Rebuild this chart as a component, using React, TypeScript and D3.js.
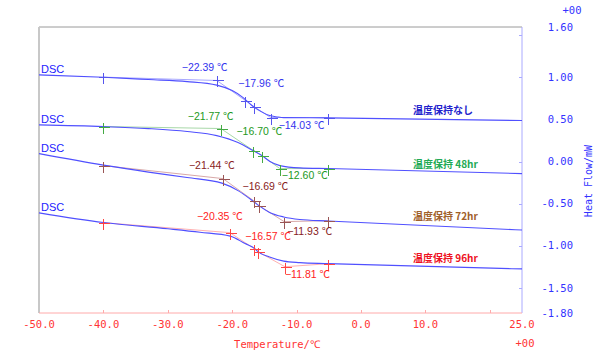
import React from "react";
import * as d3 from "d3";

// ---------- data ----------
const seriesNames = ["温度保持なし", "温度保持 48hr", "温度保持 72hr", "温度保持 96hr"];

// DSC curves: [temperature °C, heat flow mW]
const curveNone: [number, number][] = [
  [-50, 1.031], [-40, 1.002], [-33, 0.975], [-27, 0.951], [-22.4, 0.909], [-20, 0.844],
  [-18.3, 0.761], [-16.8, 0.658], [-15.5, 0.594], [-14.2, 0.547], [-13, 0.531], [-12, 0.523],
  [-5.1, 0.52], [25, 0.488],
];
const curve48: [number, number][] = [
  [-50, 0.436], [-40, 0.416], [-33, 0.392], [-27, 0.357], [-22.4, 0.309], [-19.1, 0.226],
  [-16.77, 0.131], [-15.37, 0.071], [-14.2, 0.004], [-12.6, -0.048], [-9.5, -0.075],
  [-5.1, -0.083], [25, -0.143],
];
const curve72: [number, number][] = [
  [-50, 0.095], [-40, -0.042], [-33, -0.125], [-27, -0.19], [-21.6, -0.256], [-19.1, -0.345],
  [-16.8, -0.468], [-15.8, -0.527], [-14.2, -0.604], [-12, -0.658], [-9.5, -0.688],
  [-5.1, -0.706], [25, -0.813],
];
const curve96: [number, number][] = [
  [-50, -0.61], [-40, -0.725], [-30, -0.799], [-25, -0.84], [-20.3, -0.886], [-18, -0.975],
  [-16.5, -1.034], [-16, -1.07], [-14.2, -1.135], [-12, -1.183], [-9.5, -1.201],
  [-5.1, -1.213], [25, -1.276],
];

// Tg analysis construction points: baseline, onset, midpoint, inflection, end, baseline
const crossNone: [number, number][] = [
  [-40, 1.004], [-22.39, 0.964], [-17.96, 0.726], [-16.57, 0.651], [-14.03, 0.524], [-5.1, 0.524],
];
const cross48: [number, number][] = [
  [-40, 0.417], [-21.77, 0.393], [-16.70, 0.131], [-15.37, 0.071], [-12.60, -0.083], [-5.1, -0.083],
];
const cross72: [number, number][] = [
  [-40, -0.048], [-21.44, -0.202], [-16.69, -0.464], [-15.84, -0.524], [-11.93, -0.714], [-5.1, -0.702],
];
const cross96: [number, number][] = [
  [-40, -0.726], [-20.35, -0.845], [-16.57, -1.036], [-16.0, -1.071], [-11.81, -1.25], [-5.1, -1.214],
];

const xTickLabels = [-50, -40, -30, -20, -10, 0, 10, 25];
const xTickMarks = [-40, -30, -20, -10, 0, 10, 20];
const yTickLabels = [1.6, 1.0, 0.5, 0, -0.5, -1.0, -1.5, -1.8];
const yTickMarks = [1.5, 1.0, 0.5, 0, -0.5, -1.0, -1.5];

// ---------- layout / style ----------
const W = 600;
const H = 359;
const left = 39;
const right = 522;
const top = 27;
const bottom = 313;

const curves = [curveNone, curve48, curve72, curve96];
const crosses = [crossNone, cross48, cross72, cross96];
const labelColors = ["#3333ee", "#229922", "#882222", "#ff2222"];
const crossColors = ["#5555ee", "#44aa44", "#995555", "#ff4444"];
const guideColors = ["#a8a8ff", "#a8d8a8", "#d8a8a8", "#ffb0b0"];
const legendColors = ["#2222cc", "#22aa55", "#a0602a", "#ee1122"];
// label offsets (px) for onset / midpoint / end crosses
const labelIdx = [1, 2, 4];
const labelOffsets: [number, number][][] = [
  [[-35, -9], [-7, -14], [8, 11]],
  [[-33, -9], [-17, -16], [2, 10]],
  [[-34, -10], [-11, -11], [3, 13]],
  [[-33, -13], [-9, -9], [0, 11]],
];

const mono = "'DejaVu Sans Mono', 'Liberation Mono', monospace";
const sans = "'Liberation Sans', Arial, 'Noto Sans CJK JP', sans-serif";
const cjk = "'Noto Sans CJK JP', sans-serif";

export default function App() {
  const x = d3.scaleLinear().domain([-50, 25]).range([left, right]);
  const y = d3.scaleLinear().domain([-1.8, 1.6]).range([bottom, top]);
  const line = d3
    .line<[number, number]>()
    .x((d) => x(d[0]))
    .y((d) => y(d[1]))
    .curve(d3.curveMonotoneX);
  const poly = d3
    .line<[number, number]>()
    .x((d) => x(d[0]))
    .y((d) => y(d[1]));
  const px = (v: number) => Math.round(v) + 0.5;

  return (
    <svg
      width={W}
      height={H}
      style={{ position: "absolute", left: 0, top: 0, background: "#fff" }}
    >
      {/* frame */}
      <line x1={left} x2={right} y1={top} y2={top} stroke="#9a9a9a" strokeWidth={1} />
      <line x1={left} x2={left} y1={top} y2={bottom} stroke="#c8c8c8" strokeWidth={2} />
      <line x1={right} x2={right} y1={top} y2={bottom} stroke="#aaaaff" strokeWidth={1} />
      <line x1={left} x2={right} y1={bottom} y2={bottom} stroke="#ffaaaa" strokeWidth={1} />

      {/* y ticks */}
      {yTickMarks.map((t) => (
        <line key={"yt" + t} x1={right - 3} x2={right} y1={px(y(t))} y2={px(y(t))} stroke="#aaaaff" />
      ))}
      {yTickLabels.map((t) => (
        <text
          key={"yl" + t}
          x={573}
          y={y(t)}
          dy="0.36em"
          textAnchor="end"
          fontFamily={mono}
          fontSize={10.5}
          fill="#3333ff"
        >
          {t.toFixed(2)}
        </text>
      ))}
      <text x={572} y={14} textAnchor="middle" fontFamily={mono} fontSize={10.5} fill="#3333ff">
        +00
      </text>
      <text
        transform={`translate(592,181) rotate(-90)`}
        textAnchor="middle"
        fontFamily={mono}
        fontSize={10}
        fill="#3333ff"
      >
        Heat Flow/mW
      </text>

      {/* x ticks */}
      {xTickMarks.map((t) => (
        <line key={"xt" + t} x1={px(x(t))} x2={px(x(t))} y1={bottom - 3} y2={bottom} stroke="#ffaaaa" />
      ))}
      {xTickLabels.map((t) => (
        <text
          key={"xl" + t}
          x={x(t)}
          y={328}
          textAnchor="middle"
          fontFamily={mono}
          fontSize={10.5}
          fill="#ff3333"
        >
          {t.toFixed(1)}
        </text>
      ))}
      <text x={277} y={348} textAnchor="middle" fontFamily={mono} fontSize={10.5} fill="#ff3333">
        Temperature/℃
      </text>
      <text x={525} y={347} textAnchor="middle" fontFamily={mono} fontSize={10.5} fill="#ff3333">
        +00
      </text>

      {/* curves */}
      {curves.map((c, i) => (
        <g key={"c" + i}>
          <path d={poly(crosses[i]) || ""} fill="none" stroke={guideColors[i]} strokeWidth={1} />
          <path d={line(c) || ""} fill="none" stroke="#5050ff" strokeWidth={1.1} />
          {crosses[i].map((p, j) => {
            const cx = px(x(p[0]));
            const cy = px(y(p[1]));
            return (
              <g key={"x" + j} stroke={crossColors[i]} strokeWidth={1} shapeRendering="crispEdges">
                <line x1={cx - 5} x2={cx + 6} y1={cy} y2={cy} />
                <line x1={cx} x2={cx} y1={cy - 5} y2={cy + 6} />
              </g>
            );
          })}
          {labelIdx.map((k, j) => (
            <text
              key={"l" + j}
              x={x(crosses[i][k][0]) + labelOffsets[i][j][0]}
              y={y(crosses[i][k][1]) + labelOffsets[i][j][1]}
              fontFamily={sans}
              fontSize={10.5}
              fill={labelColors[i]}
            >
              {crosses[i][k][0].toFixed(2).replace("-", "−") + " ℃"}
            </text>
          ))}
          <text
            x={41}
            y={y(c[0][1]) - 2}
            fontFamily={sans}
            fontSize={11}
            fill="#2222ff"
            style={{ fontStretch: "condensed" }}
          >
            DSC
          </text>
          <text
            x={413}
            y={[114, 168, 220, 262][i]}
            fontFamily={cjk}
            fontWeight="bold"
            fontSize={10}
            fill={legendColors[i]}
          >
            {seriesNames[i]}
          </text>
        </g>
      ))}
    </svg>
  );
}
